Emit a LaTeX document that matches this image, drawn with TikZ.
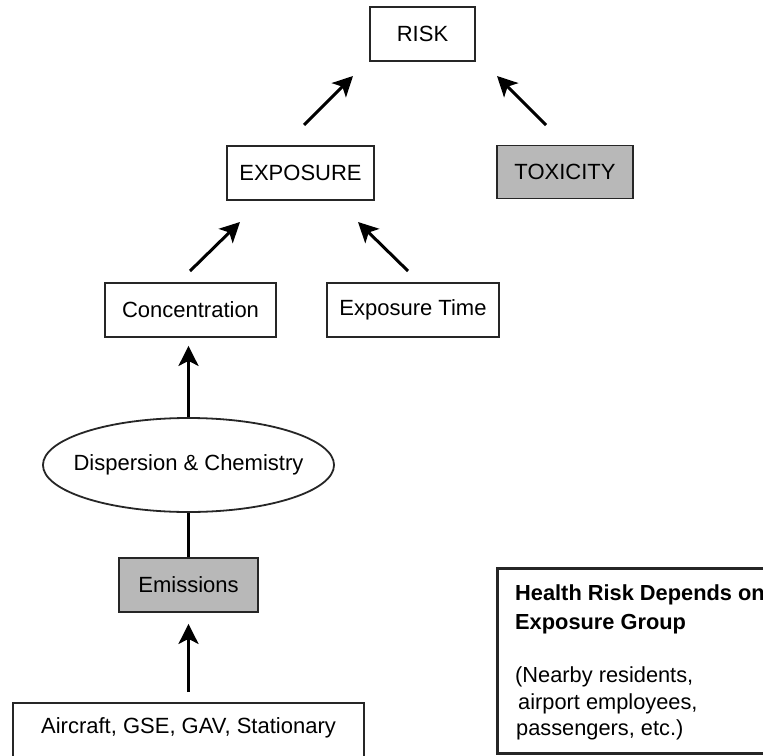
\documentclass[tikz,border=0pt]{standalone}
\usepackage{fontspec}
\setmainfont{Liberation Sans}
\usetikzlibrary{shapes.geometric,arrows.meta}
\begin{document}
\begin{tikzpicture}[x=1pt,y=-1pt,
 box/.style={draw=black!85,line width=1.8pt,minimum height=54pt,inner sep=0pt,font=\fontsize{22}{26}\selectfont},
 gbox/.style={box,fill=black!28},
 arr/.style={line width=3pt,-{Stealth[length=20pt,width=20pt,inset=5pt]}},
 ln/.style={line width=3pt},
 ht/.style={anchor=base west,inner sep=0pt,font=\fontsize{21.8}{26}\selectfont}]
\useasboundingbox (0,0) rectangle (763,755);
\clip (0,0) rectangle (763,755);
\fill[white] (0,0) rectangle (763,755);

\node[box,minimum width=105pt] (risk) at (422.5,34) {RISK};
\node[box,minimum width=147pt] (expo) at (300.5,173) {EXPOSURE};
\node[gbox,minimum width=136pt,minimum height=53pt] (tox) at (565,172) {TOXICITY};
\node[box,minimum width=171pt] (conc) at (190.5,310) {Concentration};
\node[box,minimum width=172pt] (etime) at (413,310) {Exposure Time};
\node[draw=black!85,line width=1.8pt,ellipse,minimum width=291pt,minimum height=94pt,inner xsep=-12pt,inner ysep=0pt,font=\fontsize{22}{26}\selectfont] (disp) at (188.5,465) {Dispersion \& Chemistry};
\node[gbox,minimum width=139pt] (emis) at (188.5,585) {Emissions};
\node[box,minimum width=351pt,minimum height=60pt,text height=16pt,text depth=16pt] (air) at (188.5,733) {Aircraft, GSE, GAV, Stationary};

\coordinate (a1s) at (304,125); \coordinate (a1e) at (353,76);
\coordinate (a2s) at (546,125); \coordinate (a2e) at (497,76);
\coordinate (a3s) at (190,271); \coordinate (a3e) at (240,222);
\coordinate (a4s) at (408,271); \coordinate (a4e) at (358,222);
\draw[arr] (a1s) -- (a1e);
\draw[arr] (a2s) -- (a2e);
\draw[arr] (a3s) -- (a3e);
\draw[arr] (a4s) -- (a4e);
\draw[arr,shorten >=8pt] (disp.north) -- (disp.north |- conc.south);
\draw[ln] (disp.south) -- (emis.north);
\draw[arr,shorten <=10pt,shorten >=11pt] (air.north) -- (emis.south);

\draw[line width=3pt,draw=black!85] (497,568) rectangle (820,753);
\node[ht] (h1) at (515,600) {\bfseries Health Risk Depends on};
\node[ht] (h2) at (515,629) {\bfseries Exposure Group};
\node[ht] (h3) at (515,682) {(Nearby residents,};
\node[ht] (h4) at (518,709) {airport employees,};
\node[ht] (h5) at (516,735) {passengers, etc.)};
\end{tikzpicture}
\end{document}
